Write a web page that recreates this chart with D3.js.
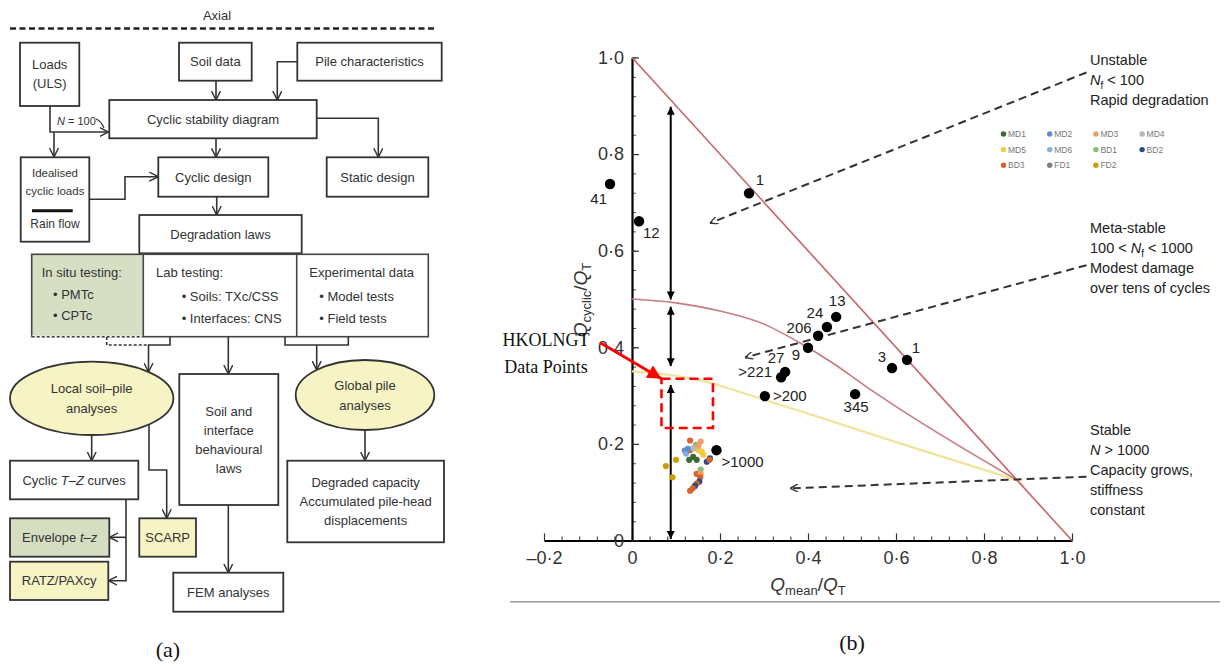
<!DOCTYPE html>
<meta charset="utf-8">
<script src="https://d3js.org/d3.v7.min.js"></script>
<style>
body { margin: 0; background: #fff; }
svg { display: block; }
</style>
<svg width="1224" height="666"></svg>
<script>
// ---- panel (b) data ----
var tickX = [-0.2, 0, 0.2, 0.4, 0.6, 0.8, 1.0];
var tickY = [0, 0.2, 0.4, 0.6, 0.8, 1.0];

// black test points with their cycle labels
var blackX = [-0.05, 0.016, 0.266, 0.464, 0.443, 0.423, 0.400, 0.348, 0.339, 0.302, 0.507, 0.591, 0.625, 0.192];
var blackY = [0.738, 0.661, 0.719, 0.463, 0.442, 0.424, 0.399, 0.349, 0.338, 0.299, 0.303, 0.357, 0.374, 0.187];
var blackLabels = ["41", "12", "1", "13", "24", "206", "9", "27", ">221", ">200", "345", "3", "1", ">1000"];
var labelDx = [-3, 4, 11, 1, -12, -19, -12, -9, -9, 8, 1, -10, 9, 5];
var labelDy = [15, 12, -13, -16, -14, -8, 7, -14, -5, 0, 13, -11, -12, 12];
var labelAnchor = ["end", "start", "middle", "middle", "middle", "middle", "middle", "middle", "end", "start", "middle", "middle", "middle", "start"];

// HKOLNGT coloured points
var hkX = [0.132, 0.156, 0.145, 0.120, 0.123, 0.132, 0.151, 0.158, 0.139, 0.130, 0.147, 0.139, 0.170, 0.177, 0.176,
           0.156, 0.147, 0.156, 0.155, 0.153, 0.147, 0.143, 0.138, 0.132, 0.077, 0.100, 0.092, 0.151, 0.127, 0.162];
var hkY = [0.207, 0.205, 0.198, 0.186, 0.180, 0.187, 0.187, 0.184, 0.191, 0.167, 0.167, 0.173, 0.163, 0.170, 0.167,
           0.147, 0.138, 0.138, 0.131, 0.122, 0.118, 0.113, 0.108, 0.103, 0.154, 0.167, 0.131, 0.196, 0.190, 0.178];
var hkSeries = ["BD3", "MD3", "BD1", "MD2", "MD6", "BD3", "MD5", "MD5", "MD4", "MD1", "MD1", "MD1", "BD2", "BD2", "BD3",
                "BD1", "BD3", "MD3", "BD3", "BD2", "BD3", "BD2", "BD3", "BD3", "FD2", "FD2", "FD2", "MD3", "MD2", "MD5"];

var seriesNames = ["MD1", "MD2", "MD3", "MD4", "MD5", "MD6", "BD1", "BD2", "BD3", "FD1", "FD2"];
var seriesColors = ["#3d6b35", "#5b8fd0", "#f39c6b", "#b8b8b8", "#f7c93a", "#7fb0e0", "#82c06e", "#2a4a90", "#d8632a", "#7f7f7f", "#c9a000"];

// stability boundaries
var unstableX = [0, 1.0], unstableY = [1.0, 0];
var metaX = [0, 0.1, 0.2, 0.3, 0.38, 0.457, 0.533, 0.609, 0.875];
var metaY = [0.5, 0.492, 0.475, 0.448, 0.41, 0.367, 0.318, 0.272, 0.125];
var stableX = [0, 0.05, 0.1, 0.15, 0.185, 0.306, 0.458, 0.609, 0.875, 0.89];
var stableY = [0.35, 0.347, 0.341, 0.333, 0.325, 0.290, 0.246, 0.201, 0.125, 0.112];

// vertical double arrows at Qmean/QT = 0.088
var rangeX = 0.088;
var rangeTop = [0.898, 0.484, 0.322];
var rangeBot = [0.499, 0.361, 0.003];

var svg = d3.select("svg");

var defs = svg.append("defs");
function marker(id, w, h, path, fill, stroke) {
  defs.append("marker").attr("id", id)
    .attr("viewBox", "0 0 10 10").attr("refX", 10).attr("refY", 5)
    .attr("markerWidth", w).attr("markerHeight", h)
    .attr("markerUnits", "userSpaceOnUse").attr("orient", "auto-start-reverse")
    .append("path").attr("d", path)
    .attr("fill", fill).attr("stroke", stroke).attr("stroke-width", fill == "none" ? 1.6 : 0);
}
marker("open", 9, 10, "M0,0L10,5L0,10", "none", "#333");
marker("dash", 8, 8, "M0,0L10,5L0,10", "none", "#333");
marker("black", 9, 8, "M0,0L10,5L0,10z", "#000", null);
marker("red", 17, 14, "M0,0L10,5L0,10z", "#f00", null);

// ================= panel (a): flowchart =================
var fa = svg.append("g").attr("font-family", "'Liberation Sans', Arial, sans-serif").attr("fill", "#333");

fa.append("text").attr("x", 217).attr("y", 20).attr("text-anchor", "middle").attr("font-size", 13).text("Axial");
fa.append("line").attr("x1", 10).attr("x2", 437).attr("y1", 28.5).attr("y2", 28.5)
  .attr("stroke", "#222").attr("stroke-width", 2.5).attr("stroke-dasharray", "6,3.5");

// boxes: x, y, w, h, fill, text lines, font size
var boxes = [
  [20, 42.7, 59.3, 63.3, "#fff", ["Loads", "(ULS)"], 13],
  [179, 42.7, 72.7, 38, "#fff", ["Soil data"], 13],
  [297.3, 42.7, 144.4, 38, "#fff", ["Pile characteristics"], 13],
  [109.3, 100, 207.4, 38.3, "#fff", ["Cyclic stability diagram"], 13],
  [158.3, 157.3, 110, 39.4, "#fff", ["Cyclic design"], 13],
  [326.7, 157.3, 101.6, 39.4, "#fff", ["Static design"], 13],
  [139.3, 215, 162.4, 38.3, "#fff", ["Degradation laws"], 13],
  [179.3, 374, 99, 131, "#fff", ["Soil and", "interface", "behavioural", "laws"], 13],
  [10, 460.7, 128.3, 38.6, "#fff", ["Cyclic T–Z curves"], 13],
  [287.3, 460.7, 156.7, 81.6, "#fff", ["Degraded capacity", "Accumulated pile-head", "displacements"], 13],
  [10, 518.3, 99.3, 38.4, "#d5dec1", ["Envelope t–z"], 13],
  [10, 561.7, 98.3, 38.3, "#f6f4c4", ["RATZ/PAXcy"], 13],
  [139.3, 518.3, 56.7, 38.4, "#f6f4c4", ["SCARP"], 13],
  [173.3, 572.7, 110, 39, "#fff", ["FEM analyses"], 13]
];

boxes.forEach(function(b) {
  fa.append("rect").attr("x", b[0]).attr("y", b[1]).attr("width", b[2]).attr("height", b[3])
    .attr("fill", b[4]).attr("stroke", "#333").attr("stroke-width", 1.8);
  var n = b[5].length, lh = 19;
  b[5].forEach(function(t, i) {
    var txt = fa.append("text").attr("x", b[0] + b[2] / 2)
      .attr("y", b[1] + b[3] / 2 + (i - (n - 1) / 2) * lh)
      .attr("dy", "0.35em").attr("text-anchor", "middle").attr("font-size", b[6]);
    // italic symbols
    var m = t.match(/^(.*?)(T–Z|t–z)(.*)$/);
    if (m) {
      txt.append("tspan").text(m[1]);
      txt.append("tspan").attr("font-style", "italic").text(m[2]);
      txt.append("tspan").text(m[3]);
    } else txt.text(t);
  });
});

// idealised cyclic loads box
fa.append("rect").attr("x", 20.7).attr("y", 157.3).attr("width", 68.6).attr("height", 84.4)
  .attr("fill", "#fff").attr("stroke", "#333").attr("stroke-width", 1.8);
fa.append("text").attr("x", 55).attr("y", 177).attr("text-anchor", "middle").attr("font-size", 11.5).text("Idealised");
fa.append("text").attr("x", 55).attr("y", 195).attr("text-anchor", "middle").attr("font-size", 11.5).text("cyclic loads");
fa.append("line").attr("x1", 32).attr("x2", 72.7).attr("y1", 210.7).attr("y2", 210.7).attr("stroke", "#111").attr("stroke-width", 3);
fa.append("text").attr("x", 55).attr("y", 228).attr("text-anchor", "middle").attr("font-size", 12).text("Rain flow");

// three column testing box
fa.append("rect").attr("x", 31.7).attr("y", 254.3).attr("width", 111.6).attr("height", 82.4).attr("fill", "#d6dfc3");
fa.append("rect").attr("x", 31.7).attr("y", 254.3).attr("width", 396.6).attr("height", 82.4)
  .attr("fill", "none").attr("stroke", "#444").attr("stroke-width", 1.6);
fa.append("line").attr("x1", 31.7).attr("x2", 143.3).attr("y1", 336.7).attr("y2", 336.7)
  .attr("stroke", "#fff").attr("stroke-width", 2.2);
fa.append("line").attr("x1", 31.7).attr("x2", 143.3).attr("y1", 336.7).attr("y2", 336.7)
  .attr("stroke", "#444").attr("stroke-width", 1.6).attr("stroke-dasharray", "3,2");
[143.3, 296.7].forEach(function(x) {
  fa.append("line").attr("x1", x).attr("x2", x).attr("y1", 254.3).attr("y2", 336.7).attr("stroke", "#444").attr("stroke-width", 1.6);
});
var colText = [
  [41.7, 277, "In situ testing:"], [53, 299, "• PMTc"], [53, 320, "• CPTc"],
  [156, 277, "Lab testing:"], [181.7, 301, "• Soils: TXc/CSS"], [181.7, 323, "• Interfaces: CNS"],
  [309.3, 277, "Experimental data"], [319.3, 301, "• Model tests"], [319.3, 323, "• Field tests"]
];
colText.forEach(function(t) {
  fa.append("text").attr("x", t[0]).attr("y", t[1]).attr("font-size", 13).text(t[2]);
});

// ellipses
var ellipses = [[91.7, 398.3, 81.7, 36.7, ["Local soil–pile", "analyses"]], [365, 395, 69.3, 35, ["Global pile", "analyses"]]];
ellipses.forEach(function(e) {
  fa.append("ellipse").attr("cx", e[0]).attr("cy", e[1]).attr("rx", e[2]).attr("ry", e[3])
    .attr("fill", "#f6f4c4").attr("stroke", "#333").attr("stroke-width", 1.8);
  e[4].forEach(function(t, i) {
    fa.append("text").attr("x", e[0]).attr("y", e[1] + (i - 0.5) * 20).attr("dy", "0.35em")
      .attr("text-anchor", "middle").attr("font-size", 13).text(t);
  });
});

// connectors
var link = d3.line();
var connectors = [
  [[50, 106], [50, 132], [108.5, 132]],
  [[54, 132], [54, 157]],
  [[216, 80.7], [216, 100]],
  [[297.3, 61.7], [277.3, 61.7], [277.3, 100]],
  [[216, 138.3], [216, 157.3]],
  [[316.7, 118.3], [378.3, 118.3], [378.3, 157.3]],
  [[89.3, 199.3], [125, 199.3], [125, 176.7], [158.3, 176.7]],
  [[216.7, 196.7], [216.7, 215]],
  [[170, 336.7], [170, 345], [148.5, 345], [148.5, 372]],
  [[228.3, 336.7], [228.3, 374]],
  [[316.7, 345], [316.7, 370]],
  [[91.7, 435], [91.7, 460.7]],
  [[149, 424.6], [149, 470], [166.7, 470], [166.7, 518.3]],
  [[126, 499.3], [126, 580.7], [108.3, 580.7]],
  [[126, 537.3], [109.3, 537.3]],
  [[228.3, 505], [228.3, 572.7]],
  [[365, 430], [365, 460.7]]
];
connectors.forEach(function(c) {
  fa.append("path").attr("d", link(c)).attr("fill", "none").attr("stroke", "#333")
    .attr("stroke-width", 1.6).attr("marker-end", "url(#open)");
});
fa.append("path").attr("d", link([[285, 336.7], [285, 345], [348.3, 345], [348.3, 336.7]]))
  .attr("fill", "none").attr("stroke", "#333").attr("stroke-width", 1.6);
fa.append("path").attr("d", link([[106.7, 337], [106.7, 345], [148.5, 345]]))
  .attr("fill", "none").attr("stroke", "#333").attr("stroke-width", 1.6).attr("stroke-dasharray", "3,2");

var nt = fa.append("text").attr("x", 57).attr("y", 125).attr("font-size", 11);
nt.append("tspan").attr("font-style", "italic").text("N");
nt.append("tspan").text(" = 100");
fa.append("path").attr("d", "M96,119 Q101,121 104,128").attr("fill", "none").attr("stroke", "#333").attr("stroke-width", 1.2);

svg.append("text").attr("x", 168).attr("y", 657).attr("text-anchor", "middle")
  .attr("font-family", "'Liberation Serif', 'Times New Roman', serif").attr("font-size", 22).attr("fill", "#111").text("(a)");

// ================= panel (b): cyclic stability diagram =================
var x = d3.scaleLinear().domain([-0.2, 1.0]).range([544, 1072]);
var y = d3.scaleLinear().domain([0, 1.0]).range([540.5, 57.5]);

var gb = svg.append("g").attr("font-family", "'Liberation Sans', Arial, sans-serif");

function fmt(d) {
  if (Math.abs(d) < 1e-9) return "0";
  return (d < 0 ? "–" : "") + d3.format(".1f")(Math.abs(d)).replace(".", "·");
}

// minor ticks
gb.append("g").attr("transform", "translate(0," + y(0) + ")")
  .call(d3.axisBottom(x).tickValues(d3.range(-0.2, 1.0001, 0.04)).tickSize(-4).tickFormat(""))
  .call(function(g) { g.select(".domain").remove(); g.selectAll("line").attr("stroke", "#333"); });
gb.append("g").attr("transform", "translate(" + x(0) + ",0)")
  .call(d3.axisLeft(y).tickValues(d3.range(0, 1.0001, 0.04)).tickSize(-4).tickFormat(""))
  .call(function(g) { g.select(".domain").remove(); g.selectAll("line").attr("stroke", "#555"); });

var xAxis = gb.append("g").attr("transform", "translate(0," + y(0) + ")")
  .call(d3.axisBottom(x).tickValues(tickX).tickSize(-7).tickSizeOuter(0).tickPadding(11).tickFormat(fmt));
var yAxis = gb.append("g").attr("transform", "translate(" + x(0) + ",0)")
  .call(d3.axisLeft(y).tickValues(tickY).tickSize(-7).tickSizeOuter(0).tickPadding(8).tickFormat(fmt));
[xAxis, yAxis].forEach(function(a) {
  a.select(".domain").attr("stroke", "#000").attr("stroke-width", 2.2);
  a.selectAll(".tick line").attr("stroke", "#333").attr("stroke-width", 1.2);
  a.selectAll(".tick text").attr("font-size", 18).attr("fill", "#333").attr("font-family", "'Liberation Sans', Arial, sans-serif");
});

// axis titles
var xt = gb.append("text").attr("x", 808).attr("y", 591).attr("text-anchor", "middle").attr("font-size", 19).attr("fill", "#333");
xt.append("tspan").attr("font-style", "italic").text("Q");
xt.append("tspan").attr("font-size", 13).attr("dy", 4).text("mean");
xt.append("tspan").attr("dy", -4).text("/");
xt.append("tspan").attr("font-style", "italic").text("Q");
xt.append("tspan").attr("font-size", 13).attr("dy", 4).text("T");

var yt = gb.append("text").attr("transform", "translate(587,300) rotate(-90)").attr("text-anchor", "middle").attr("font-size", 19).attr("fill", "#333");
yt.append("tspan").attr("font-style", "italic").text("Q");
yt.append("tspan").attr("font-size", 13).attr("dy", 4).text("cyclic");
yt.append("tspan").attr("dy", -4).text("/");
yt.append("tspan").attr("font-style", "italic").text("Q");
yt.append("tspan").attr("font-size", 13).attr("dy", 4).text("T");

// boundaries
var curve = d3.line().x(function(d) { return x(d[0]); }).y(function(d) { return y(d[1]); });
gb.append("path").attr("d", curve.curve(d3.curveLinear)(d3.zip(stableX, stableY)))
  .attr("fill", "none").attr("stroke", "#f0e49a").attr("stroke-width", 2.2).attr("stroke-linejoin", "round");
gb.append("path").attr("d", curve.curve(d3.curveMonotoneX)(d3.zip(metaX, metaY)))
  .attr("fill", "none").attr("stroke", "#c97a82").attr("stroke-width", 1.6);
gb.append("path").attr("d", curve.curve(d3.curveLinear)(d3.zip(unstableX, unstableY)))
  .attr("fill", "none").attr("stroke", "#c9646e").attr("stroke-width", 1.6);

// double arrows
rangeTop.forEach(function(t, i) {
  gb.append("line").attr("x1", x(rangeX)).attr("x2", x(rangeX)).attr("y1", y(t)).attr("y2", y(rangeBot[i]))
    .attr("stroke", "#000").attr("stroke-width", 2)
    .attr("marker-start", "url(#black)").attr("marker-end", "url(#black)");
});

// dashed leader arrows to regime descriptions
var leaders = [
  [[1.033, 0.969], [0.177, 0.657]],
  [[1.033, 0.570], [0.257, 0.379]],
  [[1.033, 0.132], [0.359, 0.108]]
];
leaders.forEach(function(l) {
  gb.append("path").attr("d", curve(l)).attr("fill", "none").attr("stroke", "#333")
    .attr("stroke-width", 2).attr("stroke-dasharray", "8,5").attr("marker-end", "url(#dash)");
});

// regime text
function regime(lines, x0, y0) {
  lines.forEach(function(l, i) {
    var t = gb.append("text").attr("x", x0).attr("y", y0 + i * 20).attr("font-size", 14.5).attr("fill", "#222");
    l.forEach(function(p) {
      var s = t.append("tspan").text(p[0]);
      if (p[1] == "i") s.attr("font-style", "italic");
      if (p[1] == "sub") s.attr("font-size", 10).attr("dy", 4);
      if (p[1] == "up") s.attr("dy", -4);
    });
  });
}
regime([[["Unstable"]], [["N", "i"], ["f", "sub"], [" < 100", "up"]], [["Rapid degradation"]]], 1090, 65);
regime([[["Meta-stable"]], [["100 < "], ["N", "i"], ["f", "sub"], [" < 1000", "up"]], [["Modest damage"]], [["over tens of cycles"]]], 1090, 233);
regime([[["Stable"]], [["N", "i"], [" > 1000"]], [["Capacity grows,"]], [["stiffness"]], [["constant"]]], 1090, 435);

// legend
seriesNames.forEach(function(s, i) {
  var lx = 1003.5 + (i % 4) * 46.2, ly = 134 + Math.floor(i / 4) * 15.6;
  gb.append("circle").attr("cx", lx).attr("cy", ly).attr("r", 2.7).attr("fill", seriesColors[i]);
  gb.append("text").attr("x", lx + 4.5).attr("y", ly).attr("dy", "0.35em").attr("font-size", 8.5).attr("fill", "#777").text(s);
});

// HKOLNGT points
var colorOf = d3.scaleOrdinal().domain(seriesNames).range(seriesColors);
gb.selectAll(".hk").data(d3.range(hkX.length)).enter().append("circle")
  .attr("cx", function(i) { return x(hkX[i]); }).attr("cy", function(i) { return y(hkY[i]); })
  .attr("r", 3.1).attr("fill", function(i) { return colorOf(hkSeries[i]); });

// black points
gb.selectAll(".bp").data(d3.range(blackX.length)).enter().append("circle")
  .attr("cx", function(i) { return x(blackX[i]); }).attr("cy", function(i) { return y(blackY[i]); })
  .attr("r", 5.2).attr("fill", "#000");
gb.selectAll(".bl").data(d3.range(blackX.length)).enter().append("text")
  .attr("x", function(i) { return x(blackX[i]) + labelDx[i]; })
  .attr("y", function(i) { return y(blackY[i]) + labelDy[i]; })
  .attr("dy", "0.35em").attr("text-anchor", function(i) { return labelAnchor[i]; })
  .attr("font-size", 15).attr("fill", "#222")
  .text(function(i) { return blackLabels[i]; });

// HKOLNGT highlight
var hkBox = [[0.067, 0.335], [0.184, 0.233]];
gb.append("rect").attr("x", x(hkBox[0][0])).attr("y", y(hkBox[0][1]))
  .attr("width", x(hkBox[1][0]) - x(hkBox[0][0])).attr("height", y(hkBox[1][1]) - y(hkBox[0][1]))
  .attr("fill", "none").attr("stroke", "#f00").attr("stroke-width", 2.6).attr("stroke-dasharray", "9,5");
gb.append("path").attr("d", curve([[-0.073, 0.41], hkBox[0]])).attr("stroke", "#f00")
  .attr("stroke-width", 3).attr("marker-end", "url(#red)");
var serif = "'Liberation Serif', 'Times New Roman', serif";
gb.append("text").attr("x", 546).attr("y", 346).attr("text-anchor", "middle").attr("font-family", serif)
  .attr("font-size", 18).attr("fill", "#111").text("HKOLNGT");
gb.append("text").attr("x", 546).attr("y", 373).attr("text-anchor", "middle").attr("font-family", serif)
  .attr("font-size", 18).attr("fill", "#111").text("Data Points");

svg.append("line").attr("x1", 510).attr("x2", 1220).attr("y1", 601.7).attr("y2", 601.7).attr("stroke", "#999").attr("stroke-width", 1.5);
svg.append("text").attr("x", 852).attr("y", 650).attr("text-anchor", "middle").attr("font-family", serif)
  .attr("font-size", 22).attr("fill", "#111").text("(b)");
</script>
